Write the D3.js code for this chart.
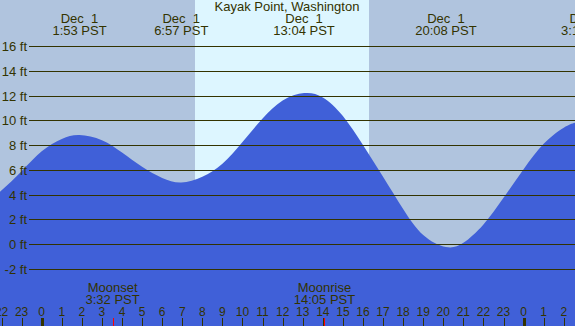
<!DOCTYPE html>
<html>
<head>
<meta charset="utf-8">
<script src="https://cdn.jsdelivr.net/npm/d3@7"></script>
<style>
  body { margin: 0; background: #fff; }
  svg text { font-family: "Liberation Sans", Arial, sans-serif; font-size: 13px; fill: #333300; white-space: pre; }
  svg text.num { font-size: 12px; }
</style>
</head>
<body>
<div id="chart"></div>
<script>
'use strict';

var title = 'Kayak Point, Washington';

// tide height (ft), hours from midnight Dec 1
var tideHours = [-2.08, -1, 0, 1, 1.88, 3, 4, 5, 6, 6.95, 8, 9, 10, 11, 12, 13.07, 14, 15, 16, 17, 18, 19, 20.13, 21, 22, 23, 24, 25, 26, 26.56];
var tideFeet  = [4.23, 5.9, 7.5, 8.5, 8.82, 8.4, 7.4, 6.25, 5.35, 4.99, 5.45, 6.5, 8.25, 10.15, 11.6, 12.2, 11.85, 10.35, 8.0, 5.45, 2.85, 0.75, -0.22, 0.12, 1.6, 3.75, 6.05, 8.1, 9.4, 9.8];

// high / low labels along the top
var extremeHours = [1.883, 6.95, 13.067, 20.133, 27.217];
var extremeDays  = ['Dec  1', 'Dec  1', 'Dec  1', 'Dec  1', 'Dec  2'];
var extremeTimes = ['1:53 PST', '6:57 PST', '13:04 PST', '20:08 PST', '3:13 PST'];

var sunrise = 7.63, sunset = 16.3;

var moonHours  = [3.533, 14.083];
var moonNames  = ['Moonset', 'Moonrise'];
var moonTimes  = ['3:32 PST', '14:05 PST'];

var feetTicks = [-2, 0, 2, 4, 6, 8, 10, 12, 14, 16];
var hourTicks = d3.range(-2, 27);

var width = 575, height = 326;

var x = d3.scaleLinear().domain([-2.077, 26.56]).range([0, width]);
var y = d3.scaleLinear().domain([-2, 16]).range([269, 46]);

var svg = d3.select('#chart').append('svg')
  .attr('width', width)
  .attr('height', height);

svg.append('rect')
  .attr('width', width)
  .attr('height', height)
  .attr('fill', '#b0c4de');

svg.append('rect')
  .attr('x', Math.round(x(sunrise)))
  .attr('y', 0)
  .attr('width', Math.round(x(sunset)) - Math.round(x(sunrise)))
  .attr('height', height)
  .attr('fill', '#ddf6ff');

var tide = tideHours.map(function(h, i) { return { h: h, ft: tideFeet[i] }; });

var area = d3.area()
  .x(function(d) { return x(d.h); })
  .y0(height)
  .y1(function(d) { return y(d.ft); })
  .curve(d3.curveNatural);

svg.append('path')
  .datum(tide)
  .attr('d', area)
  .attr('fill', '#4060d8');

// grid lines + labels
svg.selectAll('.grid')
  .data(feetTicks)
  .enter().append('line')
  .attr('class', 'grid')
  .attr('x1', 29)
  .attr('x2', width)
  .attr('y1', function(d) { return Math.round(y(d)) + 0.5; })
  .attr('y2', function(d) { return Math.round(y(d)) + 0.5; })
  .attr('stroke', '#333300')
  .attr('stroke-width', 1.2);

svg.selectAll('.ylab')
  .data(feetTicks)
  .enter().append('text')
  .attr('class', 'ylab')
  .attr('x', 27)
  .attr('y', function(d) { return Math.round(y(d)) + 5; })
  .attr('text-anchor', 'end')
  .text(function(d) { return d + ' ft'; });

svg.append('text')
  .attr('x', 287)
  .attr('y', 11)
  .attr('text-anchor', 'middle')
  .text(title);

var ext = svg.selectAll('.ext')
  .data(extremeHours)
  .enter().append('g')
  .attr('class', 'ext');

ext.append('text')
  .attr('x', function(d) { return x(d); })
  .attr('y', 23)
  .attr('text-anchor', 'middle')
  .text(function(d, i) { return extremeDays[i]; });

ext.append('text')
  .attr('x', function(d) { return x(d); })
  .attr('y', 35)
  .attr('text-anchor', 'middle')
  .text(function(d, i) { return extremeTimes[i]; });

var moon = svg.selectAll('.moon')
  .data(moonHours)
  .enter().append('g')
  .attr('class', 'moon');

moon.append('text')
  .attr('x', function(d) { return x(d); })
  .attr('y', 292)
  .attr('text-anchor', 'middle')
  .text(function(d, i) { return moonNames[i]; });

moon.append('text')
  .attr('x', function(d) { return x(d); })
  .attr('y', 304)
  .attr('text-anchor', 'middle')
  .text(function(d, i) { return moonTimes[i]; });

moon.append('line')
  .attr('x1', function(d) { return Math.round(x(d)) + 0.5; })
  .attr('x2', function(d) { return Math.round(x(d)) + 0.5; })
  .attr('y1', 318)
  .attr('y2', height)
  .attr('stroke', '#ff0000');

// hour axis
svg.selectAll('.htick')
  .data(hourTicks)
  .enter().append('line')
  .attr('class', 'htick')
  .attr('x1', function(d) { return Math.round(x(d)) + 0.5; })
  .attr('x2', function(d) { return Math.round(x(d)) + 0.5; })
  .attr('y1', 318)
  .attr('y2', height)
  .attr('stroke', '#333300')
  .attr('stroke-width', function(d) { return d % 24 === 0 ? 3 : 1; });

svg.selectAll('.hlab')
  .data(hourTicks)
  .enter().append('text')
  .attr('class', 'hlab num')
  .attr('x', function(d) { return x(d); })
  .attr('y', 316)
  .attr('text-anchor', 'middle')
  .text(function(d) { return (d + 24) % 24; });
</script>
</body>
</html>
